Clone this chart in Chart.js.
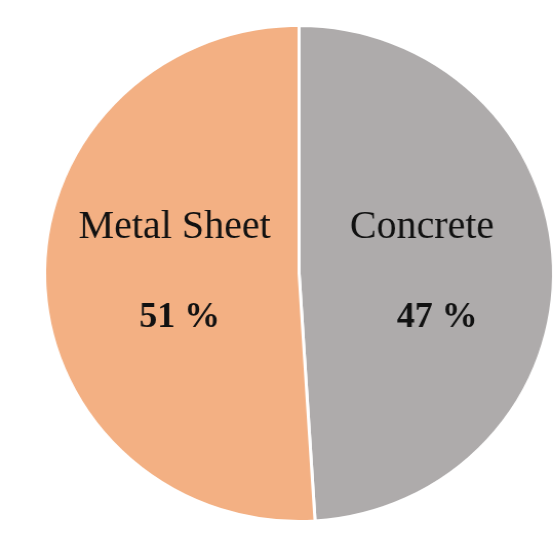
<!DOCTYPE html>
<html>
<head>
<meta charset="utf-8">
<script src="https://cdn.jsdelivr.net/npm/chart.js@4/dist/chart.umd.min.js"></script>
<style>
    html, body { margin: 0; padding: 0; background: #ffffff; overflow: hidden; }
    #wrap { width: 546px; height: 545px; transform: scaleX(1.026); transform-origin: 0 0; }
</style>
</head>
<body>
<div id="wrap"><canvas id="pie" width="546" height="545"></canvas></div>
<script>
// --- Data ---
const categories = ['Concrete', 'Metal Sheet'];
const sliceValues = [49, 51];          // slice sizes
const percentLabels = ['47 %', '51 %']; // percentages as printed on the chart
const sliceColors = ['#AEABAB', '#F3B083'];

// --- Labels drawn inside each slice ---
const sliceLabelPlugin = {
    id: 'sliceLabels',
    afterDatasetsDraw(chart) {
        const ctx = chart.ctx;
        const arcs = chart.getDatasetMeta(0).data;
        // per-slice offsets as fractions of radius: [nameX, pctX]
        const offsets = [[0.483, 0.543], [-0.489, -0.469]];
        ctx.save();
        ctx.fillStyle = '#111111';
        ctx.textAlign = 'center';
        ctx.textBaseline = 'alphabetic';
        arcs.forEach((arc, i) => {
            const r = arc.outerRadius;
            ctx.font = '39px "Liberation Serif", serif';
            ctx.fillText(categories[i], arc.x + offsets[i][0] * r, arc.y - 0.143 * r);
            ctx.font = 'bold 35px "Liberation Serif", serif';
            ctx.fillText(percentLabels[i], arc.x + offsets[i][1] * r, arc.y + 0.216 * r);
        });
        ctx.restore();
    }
};

new Chart(document.getElementById('pie'), {
    type: 'pie',
    data: {
        labels: categories,
        datasets: [{
            data: sliceValues,
            backgroundColor: sliceColors,
            borderColor: '#ffffff',
            borderWidth: 3
        }]
    },
    options: {
        responsive: false,
        animation: false,
        layout: { padding: { top: 24, bottom: 22, left: 42, right: 5 } },
        plugins: {
            legend: { display: false },
            tooltip: { enabled: false }
        }
    },
    plugins: [sliceLabelPlugin]
});
</script>
</body>
</html>
